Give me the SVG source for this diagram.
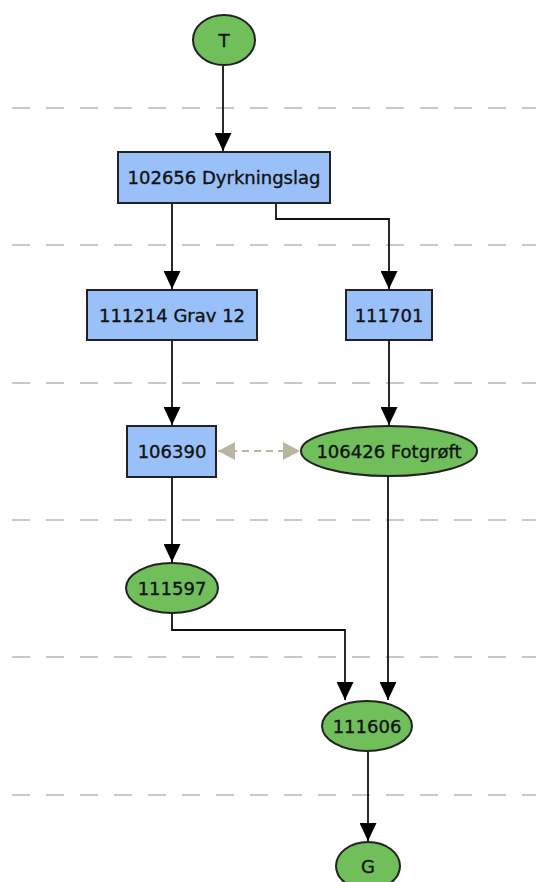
<svg xmlns="http://www.w3.org/2000/svg" width="536" height="882" viewBox="0 0 536 882">
<style>
.sep{stroke:#c8c8c8;stroke-width:2;stroke-dasharray:18 16;fill:none}
.box{fill:#99c0f8;stroke:#222;stroke-width:2}
.ell{fill:#70bf5b;stroke:#222;stroke-width:2}
.lbl{font-family:"DejaVu Sans",Verdana,sans-serif;font-size:18px;fill:#111;stroke:#111;stroke-width:0.35;text-anchor:middle}
.edge{stroke:#111;stroke-width:1.8;fill:none;marker-end:url(#arr)}
.dash{stroke:#b9b5a3;stroke-width:1.8;fill:none;stroke-dasharray:7 5;marker-start:url(#garrs);marker-end:url(#garr)}
</style>
<defs>
<marker id="arr" markerUnits="userSpaceOnUse" markerWidth="18" markerHeight="17" refX="18" refY="8.5" orient="auto" viewBox="0 0 18 17">
<path d="M0,0 L18,8.5 L0,17 Z" fill="#000"/>
</marker>
<marker id="garr" markerUnits="userSpaceOnUse" markerWidth="18" markerHeight="18" refX="17" refY="9" orient="auto" viewBox="0 0 18 18">
<path d="M0,0 L17,9 L0,18 Z" fill="#b9b5a3"/>
</marker>
<marker id="garrs" markerUnits="userSpaceOnUse" markerWidth="18" markerHeight="18" refX="17" refY="9" orient="auto-start-reverse" viewBox="0 0 18 18">
<path d="M0,0 L17,9 L0,18 Z" fill="#b9b5a3"/>
</marker>
</defs>
<rect width="536" height="882" fill="#fff"/>
<g id="separators">
<line class="sep" x1="12" y1="108" x2="536" y2="108"/>
<line class="sep" x1="12" y1="245" x2="536" y2="245"/>
<line class="sep" x1="12" y1="383" x2="536" y2="383"/>
<line class="sep" x1="12" y1="520" x2="536" y2="520"/>
<line class="sep" x1="12" y1="657" x2="536" y2="657"/>
<line class="sep" x1="12" y1="795" x2="536" y2="795"/>
</g>
<g id="connectors">
<path class="edge" d="M223,66 V151"/>
<path class="edge" d="M172,203 V289"/>
<path class="edge" d="M276,203 V219 H389 V289"/>
<path class="edge" d="M172,340 V425"/>
<path class="edge" d="M389,340 V425"/>
<path class="edge" d="M172,477 V562"/>
<path class="edge" d="M172,613 V630 H345 V700"/>
<path class="edge" d="M388,476 V700"/>
<path class="edge" d="M368,752 V841"/>
<path class="dash" d="M218,451 H300"/>
</g>
<g id="T"><ellipse class="ell" cx="224" cy="40" rx="31" ry="25"/><text class="lbl" x="224" y="47">T</text></g>
<g id="n102656"><rect class="box" x="118" y="152" width="212" height="51"/><text class="lbl" x="224" y="184">102656 Dyrkningslag</text></g>
<g id="n111214"><rect class="box" x="87" y="290" width="170" height="50"/><text class="lbl" x="172" y="322">111214 Grav 12</text></g>
<g id="n111701"><rect class="box" x="346" y="290" width="86" height="50"/><text class="lbl" x="389" y="322">111701</text></g>
<g id="n106390"><rect class="box" x="127" y="426" width="89" height="51"/><text class="lbl" x="172" y="458">106390</text></g>
<g id="n106426"><ellipse class="ell" cx="389" cy="451" rx="88" ry="25"/><text class="lbl" x="389" y="458">106426 Fotgrøft</text></g>
<g id="n111597"><ellipse class="ell" cx="172" cy="588" rx="46" ry="25"/><text class="lbl" x="172" y="595">111597</text></g>
<g id="n111606"><ellipse class="ell" cx="367" cy="726" rx="45" ry="25"/><text class="lbl" x="367" y="733">111606</text></g>
<g id="G"><ellipse class="ell" cx="368" cy="866" rx="32" ry="24"/><text class="lbl" x="368" y="873">G</text></g>
</svg>
